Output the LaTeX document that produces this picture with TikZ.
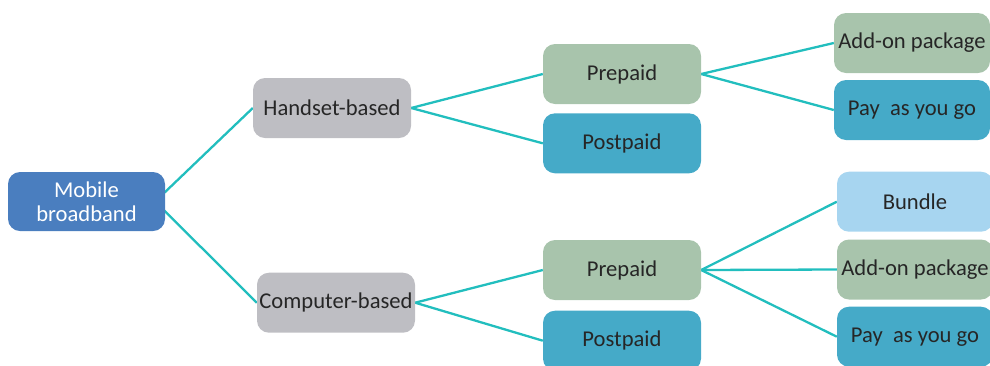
\documentclass[tikz,border=0pt]{standalone}
\usepackage{fontspec}
\setmainfont{Carlito}
\usetikzlibrary{backgrounds}
\definecolor{mbblue}{RGB}{74,126,191}
\definecolor{greybox}{RGB}{190,190,195}
\definecolor{greenbox}{RGB}{168,196,172}
\definecolor{tealbox}{RGB}{69,170,200}
\definecolor{lightbox}{RGB}{167,213,240}
\definecolor{linecol}{RGB}{34,190,190}
\definecolor{txt}{RGB}{38,38,38}
\tikzset{
  box/.style={rounded corners=12pt, minimum width=158pt, minimum height=60pt,
    inner sep=0pt, text=txt, font=\fontsize{22.6}{23.5}\selectfont, align=center},
  rbox/.style={box, minimum width=156pt},
  conn/.style={draw=linecol, line width=2.3pt}
}
\begin{document}
\begin{tikzpicture}[x=1pt,y=-1pt]
\useasboundingbox (0,0) rectangle (990,365);
\clip (0,0) rectangle (990,365);
\node[box, fill=mbblue, text=white, minimum width=157pt, minimum height=59pt] (mb) at (86.5,201.5) {Mobile\\broadband};
\node[box, fill=greybox] (hs) at (332,108) {Handset-based};
\node[box, fill=greybox] (cb) at (336,302.7) {Computer-based};
\node[box, fill=greenbox] (pre1) at (622,74) {Prepaid};
\node[box, fill=tealbox] (post1) at (622,143.3) {Postpaid};
\node[box, fill=greenbox] (pre2) at (622,270) {Prepaid};
\node[box, fill=tealbox] (post2) at (622,340.7) {Postpaid};
\node[rbox, fill=greenbox] (add1) at (912,43) {Add-on package};
\node[rbox, fill=tealbox] (pay1) at (912,110) {Pay\ \ as you go};
\node[rbox, fill=lightbox] (bun) at (915,201.7) {Bundle};
\node[rbox, fill=greenbox] (add2) at (915,269.5) {Add-on package};
\node[rbox, fill=tealbox] (pay2) at (915,336.7) {Pay\ \ as you go};
\begin{scope}[on background layer]
\coordinate (mbout) at ([xshift=-10pt]mb.east);
\draw[conn] (mbout) -- (hs.west);
\draw[conn] (mbout) -- (cb.west);
\draw[conn] (hs.east) -- (pre1.west);
\draw[conn] (hs.east) -- (post1.west);
\draw[conn] (cb.east) -- (pre2.west);
\draw[conn] (cb.east) -- (post2.west);
\draw[conn] (pre1.east) -- (add1.west);
\draw[conn] (pre1.east) -- (pay1.west);
\draw[conn] (pre2.east) -- (bun.west);
\draw[conn] (pre2.east) -- (add2.west);
\draw[conn] (pre2.east) -- (pay2.west);
\end{scope}
\end{tikzpicture}
\end{document}
